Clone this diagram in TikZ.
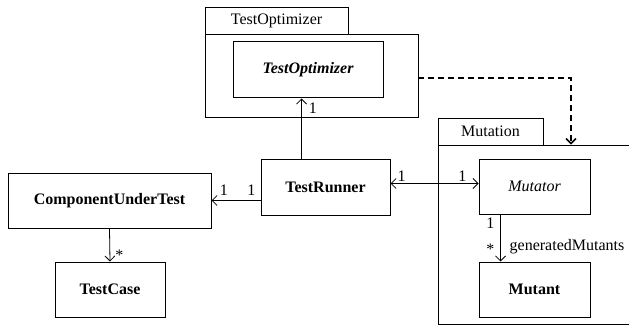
\documentclass[tikz,border=0pt]{standalone}
\usepackage{fontspec}
\setmainfont{Liberation Serif}
\usetikzlibrary{arrows.meta,positioning,calc}
\newcommand{\umlsize}{\fontsize{16}{19}\selectfont}
\tikzset{
    %Define standard arrow tip
    >={Straight Barb[length=5pt,width=10pt]},
    %Define style for class boxes
    cls/.style={
           draw,
           line width=1pt,
           rectangle,
           inner sep=2pt,
           font=\umlsize\bfseries},
    % package tab and body
    pkgtab/.style={
           draw,
           line width=0.8pt,
           rectangle,
           inner sep=2pt,
           font=\umlsize},
    % Define arrow styles
    assoc/.style={
           ->,
           line width=0.8pt},
    dep/.style={
           ->,
           dashed,
           dash pattern=on 6pt off 4pt,
           line width=1.5pt},
    mult/.style={
           inner sep=1pt,
           font=\umlsize}
}

\begin{document}
\begin{tikzpicture}[x=1pt,y=-1pt]
	\clip (0,0) rectangle (629,326);

	% TestOptimizer package
	\node[pkgtab, minimum width=143, minimum height=27](topt-tab) at (276.5,20.5){TestOptimizer};
	\node[pkgtab, minimum width=213, minimum height=83](topt-pkg) at (311.5,75.5){};
	\node[cls, minimum width=150, minimum height=56](topt) at (308,70){\itshape TestOptimizer};

	% Mutation package
	\node[pkgtab, minimum width=105, minimum height=27](mut-tab) at (490.5,131.5){Mutation};
	\node[pkgtab, minimum width=206, minimum height=179](mut-pkg) at (541,234.5){};
	\node[cls, minimum width=111, minimum height=55](mutator) at (534.5,186.5){\mdseries\itshape Mutator};
	\node[cls, minimum width=111, minimum height=55](mutant) at (534.5,289.5){Mutant};

	% runner and components
	\node[cls, minimum width=129, minimum height=56](runner) at (325.5,187){TestRunner};
	\node[cls, minimum width=203, minimum height=55](cut) at (109.5,200.5){ComponentUnderTest};
	\node[cls, minimum width=110, minimum height=55](testcase) at (110,289.5){TestCase};

	% associations
	\coordinate (runner-up) at ([xshift=41]runner.north west);
	\draw[assoc] (runner-up) -- (runner-up |- topt.south)
	     node[mult, below right, xshift=6, yshift=-3]{1};

	\draw[assoc] (runner.west |- cut.east) -- (cut.east)
	     node[mult, above right, xshift=7, yshift=4]{1};
	\node[mult, above left, xshift=-4, yshift=4] at (runner.west |- cut.east){1};

	\draw[assoc] (cut.south) -- (testcase.north)
	     node[mult, above right, xshift=4, yshift=0]{*};

	\coordinate (link) at ([yshift=3]mutator.west);
	\draw[assoc, <->] (runner.east |- link) -- (link);
	\node[mult, above right, xshift=6, yshift=1] at (runner.east |- link){1};
	\node[mult, above left, xshift=-11, yshift=1] at (link){1};

	\coordinate (gen) at ([xshift=22]mutator.south west);
	\draw[assoc] (gen) -- (gen |- mutant.north);
	\node[mult, below left, xshift=-5, yshift=-2] at (gen){1};
	\node[mult, above left, xshift=-5, yshift=6] at (gen |- mutant.north){*};
	\node[mult, anchor=west] at ($(gen)!0.68!(gen |- mutant.north)+(8,0)$){generatedMutants};

	% dependency
	\coordinate (dep-turn) at (571,78);
	\draw[dep] (topt-pkg.east |- dep-turn) -- (dep-turn) -- (dep-turn |- mut-pkg.north);
\end{tikzpicture}
\end{document}
